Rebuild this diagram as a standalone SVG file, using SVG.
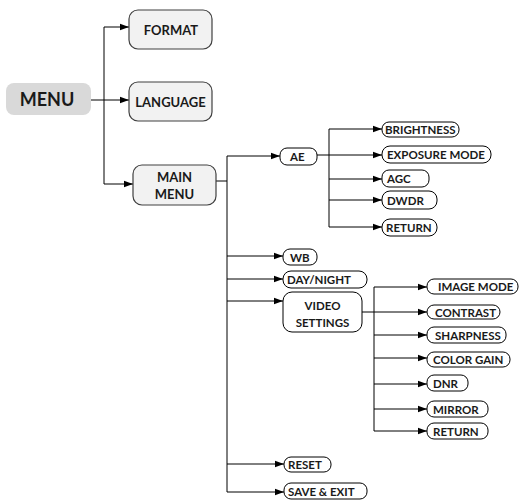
<svg xmlns="http://www.w3.org/2000/svg" width="523" height="504" viewBox="0 0 523 504">
<style>
.big{fill:#f2f2f2;stroke:#404040;stroke-width:1.2}
.sm{fill:#fff;stroke:#000;stroke-width:1}
.t{font-family:Lato,"Open Sans",sans-serif;font-weight:bold;fill:#1a1a1a;text-anchor:middle;dominant-baseline:central}
.tb{font-size:13px}
.ts{font-size:11.5px;text-anchor:start}
.c{fill:none;stroke:#000;stroke-width:1}
</style>
<defs>
<marker id="a" markerUnits="userSpaceOnUse" markerWidth="10" markerHeight="8" refX="9" refY="4" orient="auto">
<path d="M0,0.8 L9,4 L0,7.2 Z" fill="#000"/>
</marker>
</defs>
<rect width="523" height="504" fill="#fff"/>
<g id="connectors">
<path class="c" d="M104,27 V184"/>
<path class="c" d="M104,27 H129" marker-end="url(#a)"/>
<path class="c" d="M91,100 H129" marker-end="url(#a)"/>
<path class="c" d="M104,184 H133" marker-end="url(#a)"/>
<path class="c" d="M216,181 H227"/>
<path class="c" d="M227,156 V492"/>
<path class="c" d="M227,156 H280" marker-end="url(#a)"/>
<path class="c" d="M317,155 H382" marker-end="url(#a)"/>
<path class="c" d="M329,129 V227"/>
<path class="c" d="M329,129 H382" marker-end="url(#a)"/>
<path class="c" d="M329,179 H382" marker-end="url(#a)"/>
<path class="c" d="M329,200 H382" marker-end="url(#a)"/>
<path class="c" d="M329,227 H382" marker-end="url(#a)"/>
<path class="c" d="M227,256 H283" marker-end="url(#a)"/>
<path class="c" d="M227,279 H283" marker-end="url(#a)"/>
<path class="c" d="M227,301 H283" marker-end="url(#a)"/>
<path class="c" d="M227,464 H284" marker-end="url(#a)"/>
<path class="c" d="M227,492 H284" marker-end="url(#a)"/>
<path class="c" d="M362,312 H427" marker-end="url(#a)"/>
<path class="c" d="M374,287 V431"/>
<path class="c" d="M374,287 H427" marker-end="url(#a)"/>
<path class="c" d="M374,335 H427" marker-end="url(#a)"/>
<path class="c" d="M374,358 H427" marker-end="url(#a)"/>
<path class="c" d="M374,384 H427" marker-end="url(#a)"/>
<path class="c" d="M374,409 H427" marker-end="url(#a)"/>
<path class="c" d="M374,431 H427" marker-end="url(#a)"/>
</g>
<g id="menu"><rect x="6" y="83" width="85" height="32" rx="8" fill="#d9d9d9"/><text class="t" x="47" y="99" font-size="18">MENU</text></g>
<g id="format"><rect class="big" x="129" y="10" width="83" height="39" rx="9"/><text class="t tb" x="171" y="29.5">FORMAT</text></g>
<g id="language"><rect class="big" x="129" y="82" width="83" height="39" rx="9"/><text class="t tb" x="170.5" y="102">LANGUAGE</text></g>
<g id="mainmenu"><rect class="big" x="133" y="165" width="83" height="40" rx="9"/><text class="t tb" x="174.5" y="176.5">MAIN</text><text class="t tb" x="174.5" y="194">MENU</text></g>
<g id="ae"><rect class="sm" x="280" y="148" width="37" height="17" rx="7"/><text class="t ts" x="290" y="156.5">AE</text></g>
<g id="brightness"><rect class="sm" x="382" y="122" width="77" height="15" rx="7"/><text class="t ts" x="385" y="129.5">BRIGHTNESS</text></g>
<g id="exposure"><rect class="sm" x="382" y="146" width="109" height="17" rx="8"/><text class="t ts" x="387" y="154.5">EXPOSURE MODE</text></g>
<g id="agc"><rect class="sm" x="382" y="170" width="47" height="17" rx="7"/><text class="t ts" x="387" y="178.5">AGC</text></g>
<g id="dwdr"><rect class="sm" x="382" y="191" width="55" height="18" rx="8"/><text class="t ts" x="387" y="200">DWDR</text></g>
<g id="return1"><rect class="sm" x="382" y="219" width="55" height="17" rx="8"/><text class="t ts" x="386" y="227.5">RETURN</text></g>
<g id="wb"><rect class="sm" x="283" y="249" width="34" height="16" rx="7"/><text class="t ts" x="290" y="257">WB</text></g>
<g id="daynight"><rect class="sm" x="283" y="271" width="84" height="17" rx="8"/><text class="t ts" x="287" y="279.5">DAY/NIGHT</text></g>
<g id="videosettings"><rect class="sm" x="283" y="292" width="79" height="40" rx="9" stroke="#404040"/><text class="t ts" x="322.5" y="305" text-anchor="middle" style="text-anchor:middle">VIDEO</text><text class="t ts" x="322.5" y="322" style="text-anchor:middle">SETTINGS</text></g>
<g id="imagemode"><rect class="sm" x="427" y="279" width="91" height="15" rx="7"/><text class="t ts" x="438" y="286.5">IMAGE MODE</text></g>
<g id="contrast"><rect class="sm" x="427" y="305" width="73" height="14" rx="7"/><text class="t ts" x="435" y="312">CONTRAST</text></g>
<g id="sharpness"><rect class="sm" x="427" y="327" width="79" height="16" rx="7"/><text class="t ts" x="435" y="335">SHARPNESS</text></g>
<g id="colorgain"><rect class="sm" x="427" y="352" width="83" height="15" rx="7"/><text class="t ts" x="433" y="359.5">COLOR GAIN</text></g>
<g id="dnr"><rect class="sm" x="427" y="375" width="41" height="16" rx="7"/><text class="t ts" x="433" y="383">DNR</text></g>
<g id="mirror"><rect class="sm" x="427" y="401" width="61" height="16" rx="7"/><text class="t ts" x="433" y="409">MIRROR</text></g>
<g id="return2"><rect class="sm" x="427" y="423" width="61" height="16" rx="7"/><text class="t ts" x="433" y="431">RETURN</text></g>
<g id="reset"><rect class="sm" x="284" y="457" width="47" height="15" rx="7"/><text class="t ts" x="288" y="464.5">RESET</text></g>
<g id="saveexit"><rect class="sm" x="284" y="483" width="83" height="16" rx="7"/><text class="t ts" x="288" y="491">SAVE &amp; EXIT</text></g>
</svg>
